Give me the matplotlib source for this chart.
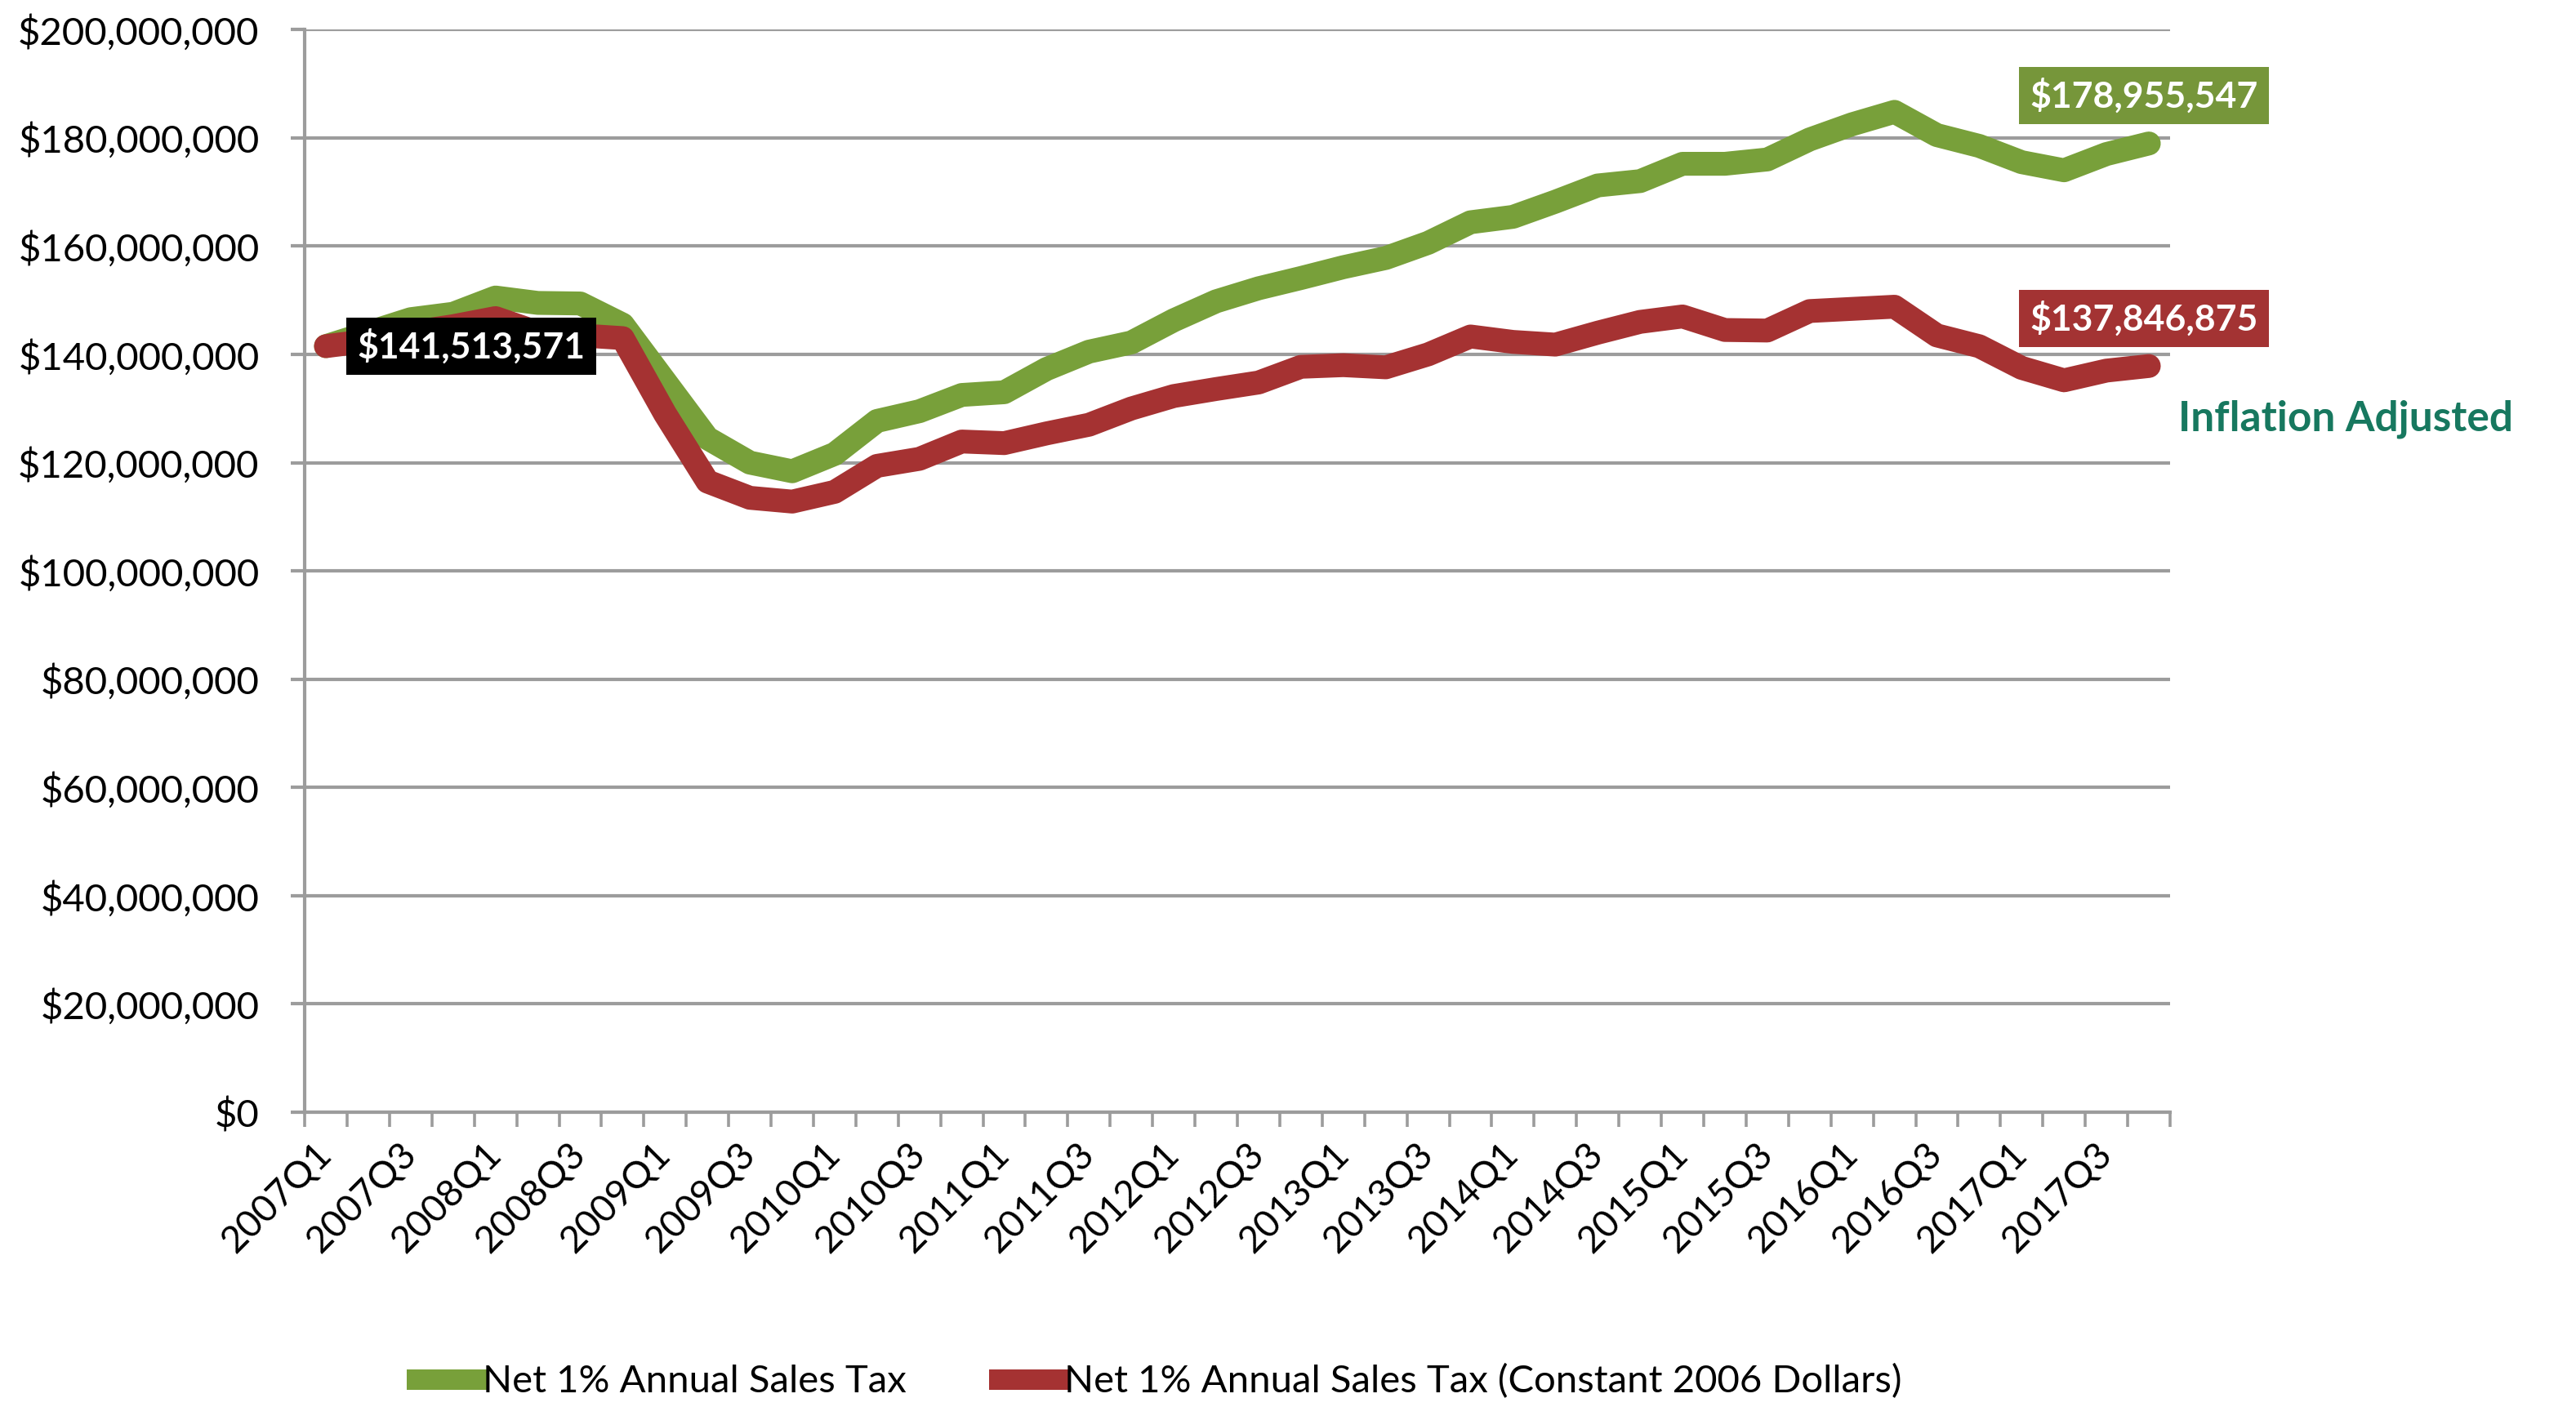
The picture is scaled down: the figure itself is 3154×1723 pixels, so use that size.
import matplotlib
matplotlib.use("Agg")
import matplotlib.pyplot as plt
from matplotlib.lines import Line2D
from matplotlib.ticker import FuncFormatter, MultipleLocator

plt.rcParams["font.family"] = ["Lato", "DejaVu Sans"]

# quarters 2007Q1 .. 2017Q4
years = list(range(2007, 2018))
quarters = [f"{y}Q{q}" for y in years for q in (1, 2, 3, 4)]

# net 1% annual sales tax, millions of dollars
nominal = [141.513571, 144.0, 146.5, 147.5, 150.5, 149.5, 149.4, 145.5, 135.0, 124.5,
           120.0, 118.4, 121.6, 127.7, 129.5, 132.5, 133.0, 137.3, 140.5, 142.2,
           146.3, 149.8, 152.2, 154.1, 156.1, 157.8, 160.6, 164.4, 165.4, 168.2,
           171.2, 172.0, 175.2, 175.2, 176.0, 179.7, 182.5, 184.8, 180.5, 178.5,
           175.5, 174.0, 177.0, 178.955547]
# same series in constant 2006 dollars
constant = [141.513571, 142.5, 144.0, 145.2, 146.7, 144.0, 143.5, 143.0, 129.0, 116.5,
            113.5, 112.8, 114.6, 119.4, 120.7, 123.9, 123.6, 125.4, 127.0, 130.0,
            132.3, 133.6, 134.8, 137.7, 138.0, 137.6, 140.0, 143.3, 142.3, 141.8,
            144.0, 146.0, 147.0, 144.5, 144.4, 148.0, 148.4, 148.8, 143.5, 141.5,
            137.5, 135.2, 137.0, 137.846875]

names = ["Net 1% Annual Sales Tax", "Net 1% Annual Sales Tax (Constant 2006 Dollars)"]
green = "#78A03A"
red = "#A53232"
grid_col = "#9C9C9C"

x = list(range(len(quarters)))
nom = [v * 1e6 for v in nominal]
con = [v * 1e6 for v in constant]

fig = plt.figure(figsize=(15.77, 8.615), dpi=200)
ax = fig.add_axes([0.1183, 0.2095, 0.7241, 0.7695])

ax.plot(x, nom, color=green, lw=10.5, solid_capstyle="round", solid_joinstyle="round", zorder=3)
ax.plot(x, con, color=red, lw=10.5, solid_capstyle="round", solid_joinstyle="round", zorder=4)

ax.set_xlim(-0.5, len(x) - 0.5)
ax.set_ylim(0, 200e6)
ax.yaxis.set_major_locator(MultipleLocator(20e6))
ax.yaxis.set_major_formatter(FuncFormatter(lambda v, p: f"${v:,.0f}"))
ax.grid(axis="y", color=grid_col, lw=1.5, zorder=1)
ax.set_axisbelow(True)

ax.set_xticks(x[::2])
ax.set_xticklabels(quarters[::2], rotation=45, ha="right", va="center", rotation_mode="anchor")
ax.set_xticks([i - 0.5 for i in range(len(x) + 1)], minor=True)
ax.tick_params(axis="x", which="major", length=0, pad=16, labelsize=16.5)
ax.tick_params(axis="x", which="minor", length=6.5, width=1.3, color=grid_col)
ax.tick_params(axis="y", length=6, width=1.5, color=grid_col, pad=14, labelsize=17)

for s in ("top", "right"):
    ax.spines[s].set_visible(False)
for s in ("left", "bottom"):
    ax.spines[s].set_color(grid_col)
    ax.spines[s].set_linewidth(1.5)

# value call-outs
lab = dict(fontsize=16, fontweight="bold", color="white", ha="center", va="center",
           textcoords="offset points", zorder=6)
ax.annotate(f"${con[0]:,.0f}", xy=(x[0], con[0]), xytext=(64, 0),
            bbox=dict(boxstyle="square,pad=0.3", fc="black", ec="none"), **lab)
ax.annotate(f"${nom[-1]:,.0f}", xy=(x[-1], nom[-1]), xytext=(-2, 21),
            bbox=dict(boxstyle="square,pad=0.3", fc="#76963A", ec="none"),
            annotation_clip=False, **lab)
ax.annotate(f"${con[-1]:,.0f}", xy=(x[-1], con[-1]), xytext=(-2, 21),
            bbox=dict(boxstyle="square,pad=0.3", fc="#A33333", ec="none"),
            annotation_clip=False, **lab)

ax.text(1.0044, 0.64, "Inflation Adjusted", transform=ax.transAxes, ha="left", va="center",
        fontsize=18.5, fontweight="bold", color="#17785F")

handles = [Line2D([], [], color=green, lw=9), Line2D([], [], color=red, lw=9)]
fig.legend(handles, names, loc="center", bbox_to_anchor=(0.45, 0.018), ncol=2,
           frameon=False, fontsize=17, handlelength=1.6, handletextpad=0.1,
           columnspacing=2.4)

fig.savefig("out.png", dpi=200)
